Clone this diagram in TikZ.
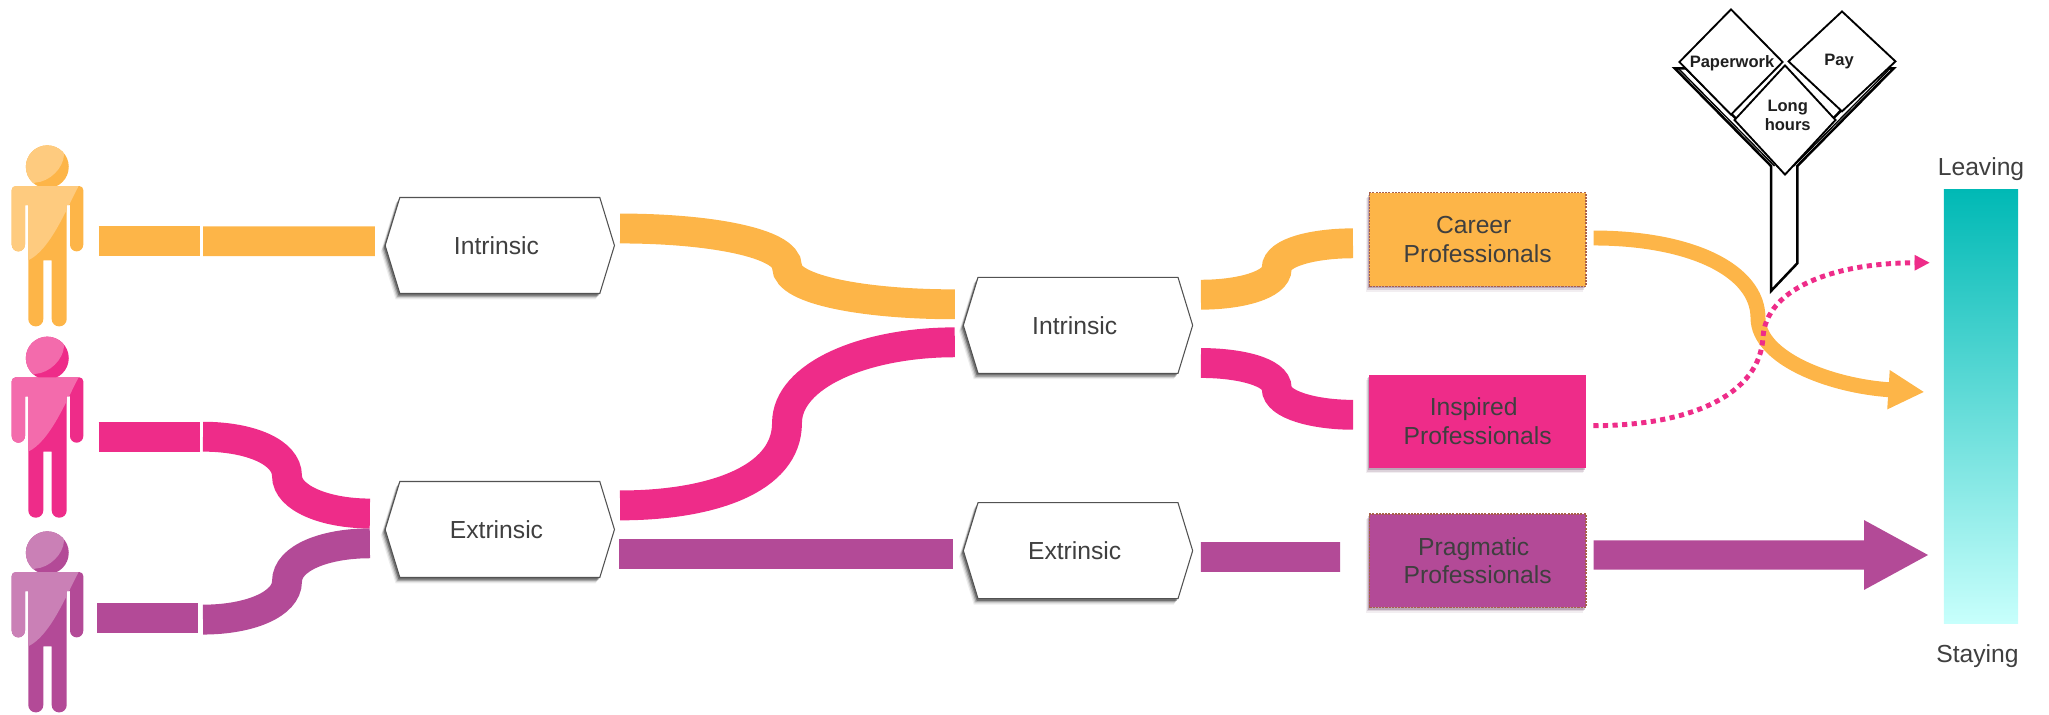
\documentclass[tikz,border=0pt]{standalone}
\usepackage{fontspec}
\setmainfont{Liberation Sans}
\usetikzlibrary{shapes.symbols,shapes.geometric,shadows,arrows.meta}
\definecolor{cOr}{HTML}{FDB548}
\definecolor{cPk}{HTML}{EE2C89}
\definecolor{cPu}{HTML}{B34A97}
\definecolor{cTx}{HTML}{3F3F3F}
\definecolor{cEdge}{HTML}{A8604A}
\definecolor{cTop}{HTML}{00B9B5}
\definecolor{cBot}{HTML}{C8FFFC}
\def\bodypath{[rounded corners=3pt] (11.7,220) -- (11.7,186) -- (83.3,186) [rounded corners=5pt] -- (83.3,251.4) -- (70,251.4) [sharp corners] -- (70,205) -- (66.7,205) [rounded corners=5.5pt] -- (66.7,326.4) -- (51.7,326.4) [sharp corners] -- (51.7,260.3) -- (43.3,260.3) [rounded corners=5.5pt] -- (43.3,326.4) -- (28.3,326.4) [sharp corners] -- (28.3,205) -- (25,205) [rounded corners=5pt] -- (25,251.4) -- (11.7,251.4) -- (11.7,220) -- cycle}
\tikzset{
  softshadow/.style={
    drop shadow={shadow xshift=-3.2pt,shadow yshift=-4.4pt,opacity=.07,fill=black},
    drop shadow={shadow xshift=-2.5pt,shadow yshift=-3.5pt,opacity=.12,fill=black},
    drop shadow={shadow xshift=-1.8pt,shadow yshift=-2.6pt,opacity=.20,fill=black},
    drop shadow={shadow xshift=-1pt,shadow yshift=-1.6pt,opacity=.32,fill=black}},
  hexbox/.style={signal,signal to=west and east,signal pointer angle=146,draw=black!68,line width=.8pt,fill=white,
    minimum width=172pt,minimum height=72pt,inner sep=0pt,text=cTx,font=\fontsize{18.5}{21.2}\selectfont,softshadow},
  probox/.style={rectangle,minimum width=162.5pt,minimum height=70pt,inner sep=0pt,align=center,text=cTx,
    font=\fontsize{18.5}{21.2}\selectfont},
  boxshadow/.style={
    drop shadow={shadow xshift=-2.4pt,shadow yshift=-4pt,opacity=.08,fill=cPu!50!black},
    drop shadow={shadow xshift=-1.6pt,shadow yshift=-2.8pt,opacity=.14,fill=cPu!50!black},
    drop shadow={shadow xshift=-.8pt,shadow yshift=-1.6pt,opacity=.25,fill=cPu!50!black}},
  rim/.style={draw=cEdge,line width=.9pt,dash pattern=on 1.6pt off .8pt},
  ribbon/.style={line width=22.4pt,line cap=butt},
  plain/.style={text=cTx,font=\fontsize{18.5}{21.2}\selectfont,inner sep=0pt},
  tile/.style={diamond,draw=black,line width=1.4pt,fill=white,inner sep=0pt,aspect=1},
  tiletext/.style={text=black!88,inner sep=0pt,align=center,font=\fontsize{12.4}{14.4}\selectfont\bfseries},
}
\begin{document}
\begin{tikzpicture}[x=.75pt,y=-.75pt]
\useasboundingbox (0,0) rectangle (2049,714);
% people
\foreach \dy/\c in {0/cOr,191.3/cPk,386/cPu}{
\begin{scope}[shift={(0,\dy)}]
  \fill[\c] (47.3,166.8) circle[radius=16.1pt];
  \begin{scope}
    \clip (47.3,166.8) circle[radius=16.1pt];
    \fill[\c!70!white] (20,140) -- (70,140) -- (64,155) .. controls (63.3,168) and (50,181.7) .. (35,182.7) -- (20,190) -- cycle;
  \end{scope}
  \fill[\c] \bodypath;
  \begin{scope}
    \clip \bodypath;
    \fill[\c!70!white] (0,180) -- (78.3,180) -- (78.3,186.7) .. controls (66,210) and (50,250) .. (28.3,260.3) -- (0,260.3) -- cycle;
  \end{scope}
\end{scope}}
% left-hand junction points of the bars
\coordinate (a1) at (98.7,241.2);
\coordinate (a2) at (199.7,241.2);
\coordinate (a3) at (203,241.2);
\coordinate (b1) at (98.7,436.7);
\coordinate (b2) at (199.7,436.7);
\coordinate (b3) at (203,436.7);
\coordinate (c1) at (97,618.3);
\coordinate (c2) at (198.3,618.3);
\coordinate (c3) at (203,619.6);
% hexagons
\node[hexbox] (h1) at (499.8,245.5) {Intrinsic\kern5pt};
\node[hexbox] (h2) at (499.8,529.5) {Extrinsic\kern5pt};
\node[hexbox] (h3) at (1078,325.3) {Intrinsic\kern5pt};
\node[hexbox] (h4) at (1078,550.7) {Extrinsic\kern5pt};
% boxes
\node[probox,fill=cOr,boxshadow,rim] (career) at (1477.7,239.5) {Career\kern6pt\\Professionals};
\node[probox,fill=cPk,boxshadow] (inspired) at (1477.7,421.3) {Inspired\kern6pt\\Professionals};
\node[probox,fill=cPu,boxshadow,rim] (pragmatic) at (1477.7,560.7) {Pragmatic\kern6pt\\Professionals};
% gradient bar
\node[rectangle,minimum width=55.7pt,minimum height=326pt,inner sep=0pt,top color=cTop,bottom color=cBot] (bar) at (1981,406.6) {};
\node[plain] (leaving) at (1981,169) {Leaving};
\node[plain] (staying) at (1977.5,656.5) {Staying};
% signpost
\fill[white,draw=black,line width=1.9pt,line join=miter] (1674.7,68.3) -- (1771,166) -- (1771,291) -- (1797.3,263.3) -- (1797.3,166) -- (1893.7,68.3) -- (1882,68.3) -- (1785,168) -- (1686,68.3) -- cycle;
\draw[black,line width=1pt] (1678.2,68.3) -- (1774.5,166);
\draw[black,line width=1pt] (1890.2,68.3) -- (1793.8,166);
\node[tile,minimum width=78pt,minimum height=79.5pt] (paper) at (1731,62) {};
\node[tile,minimum width=80.8pt,minimum height=75.5pt] (pay) at (1842,61.4) {};
\node[tile,minimum width=76.3pt,minimum height=82.5pt] (long) at (1785,120) {};
\node[tiletext] at ([shift={(1,1)}]paper.center) {Paperwork};
\node[tiletext] at ([shift={(-3,0)}]pay.center) {Pay};
\node[tiletext] at ([shift={(2.7,-4.5)}]long.center) {Long\\hours};
% bars
\draw[ribbon,cOr] (a1) -- (a2);
\draw[ribbon,cOr] (a3) -- ([shift={(-9.7,-4.3)}]h1.west);
\draw[ribbon,cPk] (b1) -- (b2);
\draw[ribbon,cPu] (c1) -- (c2);
% ribbons
\draw[ribbon,cPu] (c3) .. controls (250,619.6) and (287,604) .. (287,581.4) .. controls (287,558) and (325,543.3) .. ([shift={(-14.7,13.8)}]h2.west);
\draw[ribbon,cPk] (b3) .. controls (250,436.7) and (287,452) .. (287,476) .. controls (287,498) and (325,513.5) .. ([shift={(-14.7,-16)}]h2.west);
\draw[ribbon,cOr] ([shift={(5,-17)}]h1.east) .. controls (710,228.5) and (787,243) .. (787,266.7) .. controls (787,290) and (865,304.3) .. ([shift={(-8,-21)}]h3.west);
\draw[ribbon,cPk] ([shift={(5,-24.1)}]h2.east) .. controls (710,505.4) and (787,480) .. (787,423) .. controls (787,375) and (865,342.3) .. ([shift={(-8,17)}]h3.west);
\draw[ribbon,cPu] ([shift={(4,24.8)}]h2.east) -- ([shift={(-10,3.6)}]h4.west);
\draw[ribbon,cOr] ([shift={(7.7,-30.6)}]h3.east) .. controls (1240,294.7) and (1276.7,285) .. (1276.7,268.3) .. controls (1276.7,252) and (1315,243.3) .. ([shift={(-15.8,3.8)}]career.west);
\draw[ribbon,cPk] ([shift={(7.7,37.7)}]h3.east) .. controls (1240,363) and (1276.7,372) .. (1276.7,388.3) .. controls (1276.7,405) and (1315,414.8) .. ([shift={(-16,-6.5)}]inspired.west);
\draw[ribbon,cPu] ([shift={(7.7,6.3)}]h4.east) -- ([shift={(-28.7,-3.7)}]pragmatic.west);
% outcome arrows
\draw[cOr,line width=11.2pt,-{Triangle[length=27pt,width=27.5pt]}] ([shift={(7,-1.5)}]career.east) .. controls (1690,238) and (1758,270) .. (1758,318) .. controls (1758,358) and (1830,386) .. ([shift={(-19.2,-14.6)}]bar.west);
\draw[cPk,line width=3.7pt,dash pattern=on 3.9pt off 3.3pt,-{Triangle[length=11.5pt,width=11pt]}] ([shift={(7,4.4)}]inspired.east) .. controls (1690,425.7) and (1760,395) .. (1763,337) .. controls (1766,290) and (1830,263) .. ([shift={(-13.7,-143.9)}]bar.west);
\draw[cPu,line width=22pt,-{Triangle[length=49pt,width=48.5pt]}] ([shift={(7,-5.7)}]pragmatic.east) -- ([shift={(-14.2,148.4)}]bar.west);
\end{tikzpicture}
\end{document}
